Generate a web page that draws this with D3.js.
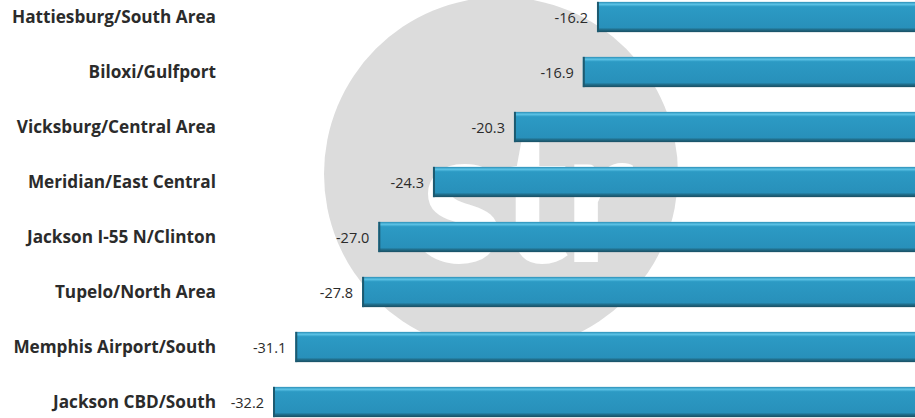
<!DOCTYPE html>
<html>
<head>
  <meta charset="utf-8">
  <title>Market Change</title>
  <script src="https://d3js.org/d3.v7.min.js"></script>
  <style>
    body { margin: 0; background: #fff; }
    .cat text { font-family: "Open Sans", Lato, sans-serif; font-weight: bold; font-size: 17.2px; fill: #2b2b2b; }
    .val { font-family: "Open Sans", Lato, sans-serif; font-size: 14.5px; fill: #2b2b2b; }
  </style>
</head>
<body>
  <svg id="chart"></svg>

  <script>
    // data
    const markets = [
      "Hattiesburg/South Area",
      "Biloxi/Gulfport",
      "Vicksburg/Central Area",
      "Meridian/East Central",
      "Jackson I-55 N/Clinton",
      "Tupelo/North Area",
      "Memphis Airport/South",
      "Jackson CBD/South"
    ];
    const changes = [-16.2, -16.9, -20.3, -24.3, -27.0, -27.8, -31.1, -32.2];

    const width = 915;
    const height = 418;

    const svg = d3.select("#chart")
                  .attr("width", width)
                  .attr("height", height);

    const defs = svg.append("defs");
    const grad = defs.append("linearGradient")
      .attr("id", "barGrad")
      .attr("x1", 0).attr("y1", 0).attr("x2", 0).attr("y2", 1);
    grad.append("stop").attr("offset", "0%").attr("stop-color", "#2a8db5");
    grad.append("stop").attr("offset", "8%").attr("stop-color", "#5cc3e6");
    grad.append("stop").attr("offset", "16%").attr("stop-color", "#2c9ac4");
    grad.append("stop").attr("offset", "85%").attr("stop-color", "#2890ba");
    grad.append("stop").attr("offset", "92%").attr("stop-color", "#1f6a86");
    grad.append("stop").attr("offset", "100%").attr("stop-color", "#1a4f63");

    // scales
    const x = d3.scaleLinear()
                .domain([-32.2, 0])
                .range([273, 925]);

    const y = d3.scaleBand()
                .domain(markets)
                .range([-10.5, 429.5])
                .paddingInner(0.45)
                .paddingOuter(0.225);

    // watermark
    const wm = svg.append("g").attr("class", "watermark");
    wm.append("circle")
      .attr("cx", 501).attr("cy", 174).attr("r", 177)
      .attr("fill", "#dcdcdc");
    wm.append("text")
      .attr("x", 524).attr("y", 262)
      .attr("text-anchor", "middle")
      .attr("font-family", "Lato, sans-serif")
      .attr("font-weight", "bold")
      .attr("font-size", 190)
      .attr("letter-spacing", -6)
      .attr("fill", "#fff")
      .text("str");

    // bars
    const bars = svg.selectAll(".bar")
      .data(changes)
      .enter()
      .append("g")
      .attr("class", "bar");

    bars.append("rect")
      .attr("x", d => x(d))
      .attr("y", (d, i) => y(markets[i]))
      .attr("width", d => x(0) - x(d))
      .attr("height", y.bandwidth())
      .attr("fill", "url(#barGrad)");

    bars.append("rect")
      .attr("x", d => x(d))
      .attr("y", (d, i) => y(markets[i]))
      .attr("width", 2)
      .attr("height", y.bandwidth())
      .attr("fill", "#1d5a70");

    // value labels
    bars.append("text")
      .attr("class", "val")
      .attr("x", d => x(d) - 9)
      .attr("y", (d, i) => y(markets[i]) + y.bandwidth() / 2)
      .attr("dy", "0.42em")
      .attr("text-anchor", "end")
      .text(d => d.toFixed(1));

    // category axis
    const yAxis = d3.axisLeft(y).tickSize(0).tickPadding(0);
    svg.append("g")
       .attr("class", "cat")
       .attr("transform", "translate(216,0)")
       .call(yAxis)
       .call(g => g.select(".domain").remove());
  </script>
</body>
</html>
